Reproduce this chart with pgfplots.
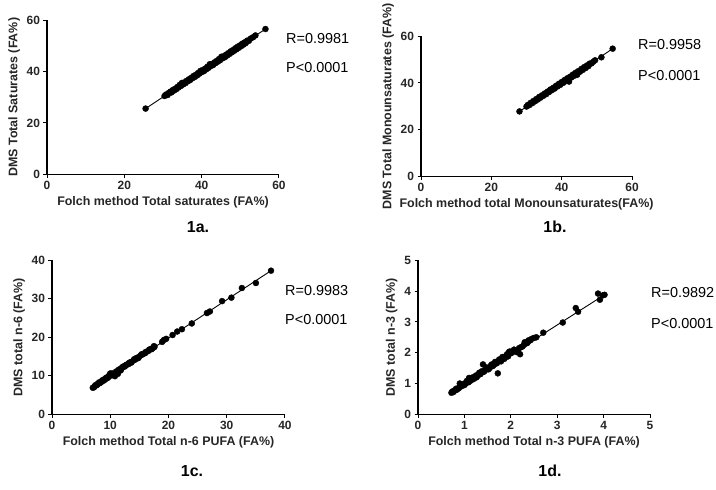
\documentclass[border=0pt]{standalone}
\usepackage{fontspec}
\setmainfont{Liberation Sans}
\usepackage{pgfplots}
\pgfplotsset{compat=1.18}
\pgfplotsset{
  myax/.style={
    scale only axis,
    anchor=south west,
    axis x line*=bottom, axis y line*=left,
    tick align=outside,
    major tick length=3.5bp,
    every tick/.style={black, line width=1bp},
    axis line style={black, line width=1.4bp},
    xmin=0, ymin=0,
    minor tick num=0,
    tick label style={font=\fontsize{12}{13}\selectfont\bfseries, text=black!85},
    label style={font=\fontsize{12.5}{14}\selectfont\bfseries, text=black!85},
    /pgf/number format/assume math mode=true,
  },
  dots/.style={only marks, mark=*, mark size=3bp, mark options={fill=black, draw=black}},
  fitline/.style={no marks, black, line width=0.9bp},
}
\newcommand{\statfont}{\fontsize{14.5}{16}\selectfont}
\newcommand{\capfont}{\fontsize{16}{18}\selectfont\bfseries}
\begin{document}
\begin{tikzpicture}
\path (0,0) rectangle (716bp,-484bp);

% 1a
\begin{axis}[myax, at={(47bp,-169bp)}, width=232bp, height=154bp,
  xmax=60, ymax=60, xtick={0,20,40,60}, ytick={0,20,40,60},
  xlabel={Folch method Total saturates (FA\%)},
  ylabel={DMS Total Saturates (FA\%)}]
\addplot[fitline] coordinates {(25.5,25.6) (56.5,56.6)};
\addplot[dots] coordinates {
(25.5,25.6) (30.4,30.5) (30.8,31.1) (31.2,30.9) (31.5,31.7) (31.9,32.2) (32.2,31.9)
(32.5,32.8) (32.8,32.6) (33.1,33.3) (33.4,33.1) (33.7,34.0) (34.0,33.8) (34.3,34.8)
(34.6,34.4) (34.9,35.6) (35.2,35.0) (35.5,35.8) (35.8,35.5) (36.1,36.4) (36.4,36.2)
(36.7,37.0) (37.0,36.7) (37.3,37.6) (37.6,37.4) (37.9,38.3) (38.2,37.9) (38.5,38.8)
(38.8,38.5) (39.1,39.5) (39.4,39.2) (39.7,40.3) (40.0,39.8) (40.3,40.6) (40.6,40.2)
(40.9,41.2) (41.2,40.9) (41.5,41.9) (41.8,41.5) (42.1,42.9) (42.4,42.2) (42.7,43.0)
(43.0,42.6) (43.3,43.6) (43.6,43.3) (43.9,44.2) (44.2,43.9) (44.5,44.9) (44.8,44.5)
(45.1,45.8) (45.4,45.2) (45.7,46.0) (46.0,45.6) (46.3,46.6) (46.6,46.3) (46.9,47.2)
(47.2,46.9) (47.5,47.9) (47.8,47.5) (48.1,48.4) (48.4,48.1) (48.7,49.1) (49.0,48.7)
(49.3,49.7) (49.6,49.3) (49.9,50.2) (50.2,49.9) (50.5,50.9) (50.8,50.5) (51.1,51.4)
(51.4,51.1) (51.8,52.1) (52.2,52.0) (52.7,52.9) (53.3,53.4) (53.9,54.1) (56.5,56.6)
};
\end{axis}
\node[anchor=west, inner sep=0] at (286bp,-33bp) {\statfont R=0.9981};
\node[anchor=west, inner sep=0] at (286bp,-62bp) {\statfont P<0.0001};
\node at (198bp,-222bp) {\capfont 1a.};

% 1b
\begin{axis}[myax, at={(421bp,-171bp)}, width=211bp, height=140bp,
  xmax=60, ymax=60, xtick={0,20,40,60}, ytick={0,20,40,60},
  xlabel={Folch method total Monounsaturates(FA\%)},
  ylabel={DMS Total Monounsaturates (FA\%)}]
\addplot[fitline] coordinates {(28,27.8) (54.5,54.7)};
\addplot[dots] coordinates {
(28.0,27.8) (30.0,29.9) (30.4,30.6) (30.8,30.5) (31.2,31.5) (31.6,31.3) (32.0,32.3)
(32.4,32.1) (32.8,33.1) (33.2,32.9) (33.6,34.0) (34.0,33.7) (34.4,34.7) (34.8,34.5)
(35.2,35.5) (35.6,35.2) (36.0,36.3) (36.4,36.1) (36.8,37.2) (37.2,36.9) (37.6,37.9)
(38.0,37.6) (38.4,38.8) (38.8,38.5) (39.2,39.6) (39.6,39.2) (40.0,40.4) (40.4,40.0)
(40.8,41.2) (41.2,40.8) (41.6,42.0) (42.0,41.5) (42.1,40.6) (42.4,42.7) (42.8,42.4)
(43.2,43.6) (43.6,43.1) (44.0,44.4) (44.4,43.5) (44.8,45.1) (45.2,44.8) (45.6,46.0)
(46.0,45.6) (46.4,46.8) (46.8,46.4) (47.2,47.5) (47.6,47.2) (48.0,48.3) (48.5,48.4)
(49.0,49.1) (49.5,49.7) (51.3,51.0) (54.5,54.7)
};
\end{axis}
\node[anchor=west, inner sep=0] at (638bp,-39bp) {\statfont R=0.9958};
\node[anchor=west, inner sep=0] at (638bp,-70bp) {\statfont P<0.0001};
\node at (555bp,-222bp) {\capfont 1b.};

% 1c
\begin{axis}[myax, at={(52bp,-409bp)}, width=233bp, height=154bp,
  xmax=40, ymax=40, xtick={0,10,20,30,40}, ytick={0,10,20,30,40},
  xlabel={Folch method Total n-6 PUFA (FA\%)},
  ylabel={DMS total n-6 (FA\%)}]
\addplot[fitline] coordinates {(7.0,6.9) (37.6,37.3)};
\addplot[dots] coordinates {
(7.0,6.9) (7.3,7.3) (7.6,7.5) (7.9,8.0) (8.2,8.1) (8.5,8.6) (8.8,8.7) (9.1,9.2)
(9.4,9.3) (9.7,9.9) (10.0,10.6) (10.2,10.1) (10.5,10.5) (10.8,9.9) (11.0,11.1)
(11.3,10.5) (11.6,11.7) (11.9,11.8) (12.2,12.4) (12.5,12.4) (12.8,12.9) (13.1,13.0)
(13.4,13.5) (13.7,13.6) (14.0,14.1) (14.3,14.2) (14.6,14.7) (14.9,14.8) (15.2,15.3)
(15.5,15.5) (15.8,15.8) (16.1,16.2) (16.5,16.4) (16.9,16.9) (17.3,17.2) (17.6,17.5)
(18.9,18.8) (19.2,19.3) (19.6,19.6) (20.7,20.6) (21.5,21.5) (22.3,22.1) (24.0,23.6)
(26.6,26.3) (27.1,26.7) (29.2,29.4) (30.8,30.3) (32.6,32.8) (35.0,34.1) (37.6,37.3)
(7.2,7.0) (7.5,7.6) (7.8,7.7) (8.1,8.3) (8.4,8.3) (8.7,8.9) (9.0,8.9) (9.3,9.5)
(9.6,9.5) (9.9,10.2) (10.3,10.6) (10.6,10.3) (11.1,10.7) (11.4,11.5) (11.8,11.4)
(12.0,12.1) (12.6,12.7) (13.2,13.3) (13.6,13.4) (14.2,14.4) (14.8,14.6) (15.4,15.6)
(16.0,15.9) (16.7,16.8) (17.1,16.9) (17.5,17.7)
};
\end{axis}
\node[anchor=west, inner sep=0] at (285bp,-285bp) {\statfont R=0.9983};
\node[anchor=west, inner sep=0] at (285bp,-314bp) {\statfont P<0.0001};
\node at (192bp,-466bp) {\capfont 1c.};

% 1d
\begin{axis}[myax, at={(418bp,-409bp)}, width=232bp, height=154bp,
  xmax=5, ymax=5, xtick={0,1,2,3,4,5}, ytick={0,1,2,3,4,5},
  xlabel={Folch method Total n-3 PUFA (FA\%)},
  ylabel={DMS total n-3 (FA\%)}]
\addplot[fitline] coordinates {(0.72,0.71) (4.02,3.88)};
\addplot[dots] coordinates {
(0.72,0.70) (0.76,0.72) (0.80,0.78) (0.84,0.80) (0.88,0.85) (0.90,1.00) (0.95,0.92)
(1.00,0.95) (1.03,1.02) (1.07,1.05) (1.10,1.18) (1.12,1.08) (1.16,1.12) (1.20,1.15)
(1.23,1.22) (1.26,1.20) (1.30,1.28) (1.33,1.30) (1.36,1.36) (1.40,1.62) (1.42,1.38)
(1.46,1.45) (1.50,1.48) (1.54,1.50) (1.57,1.58) (1.60,1.56) (1.64,1.62) (1.68,1.65)
(1.72,1.33) (1.73,1.72) (1.77,1.75) (1.80,1.78) (1.84,1.82) (1.88,1.85) (1.92,1.95)
(1.96,2.02) (2.00,1.98) (2.05,2.05) (2.10,2.08) (2.15,2.05) (2.20,1.95) (2.22,2.18)
(2.28,2.25) (2.33,2.30) (2.38,2.40) (2.45,2.45) (2.55,2.50) (2.70,2.65) (3.12,2.98)
(3.40,3.45) (3.45,3.33) (3.88,3.92) (3.92,3.72) (3.98,3.86) (4.02,3.88)
(0.74,0.74) (0.78,0.76) (0.82,0.83) (0.86,0.84) (0.92,0.90) (0.97,0.98) (1.02,0.99)
(1.05,1.08) (1.09,1.04) (1.14,1.15) (1.18,1.20) (1.21,1.17) (1.25,1.26) (1.28,1.24)
(1.32,1.35) (1.35,1.31) (1.38,1.40) (1.44,1.42) (1.48,1.52) (1.52,1.46) (1.56,1.55)
(1.59,1.62) (1.62,1.58) (1.66,1.70) (1.70,1.66) (1.75,1.78) (1.79,1.72) (1.82,1.86)
(1.86,1.80) (1.90,1.90) (1.94,1.88) (1.98,2.04) (2.02,2.00) (2.07,2.10) (2.12,2.02)
(2.18,2.15) (2.25,2.20) (2.30,2.34) (2.36,2.32) (2.42,2.40) (2.50,2.48)
};
\end{axis}
\node[anchor=west, inner sep=0] at (651bp,-287bp) {\statfont R=0.9892};
\node[anchor=west, inner sep=0] at (651bp,-318bp) {\statfont P<0.0001};
\node at (550bp,-466bp) {\capfont 1d.};
\end{tikzpicture}
\end{document}
